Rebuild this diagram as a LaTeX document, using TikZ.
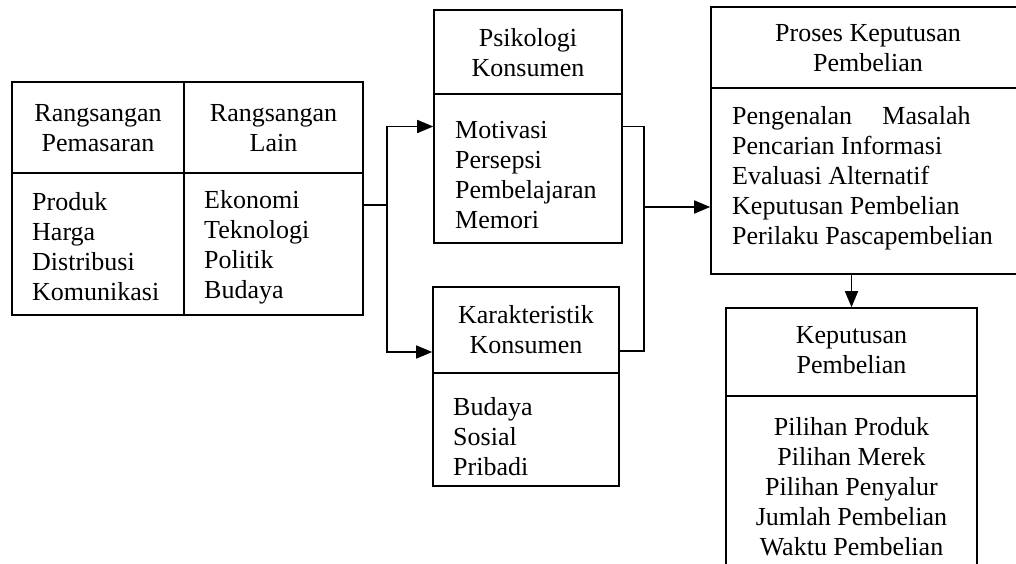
\documentclass[tikz,border=0pt]{standalone}
\usepackage{fontspec}
\setmainfont{Liberation Serif}
\usetikzlibrary{arrows.meta}
\begin{document}
\begin{tikzpicture}[x=1pt,y=-1pt,
  box/.style={draw, line width=1.6pt, inner sep=0pt, rectangle},
  txt/.style={inner sep=0pt, font=\fontsize{26}{30}\selectfont},
  ln/.style={line width=1.6pt},
  arr/.style={line width=1.6pt, -{Triangle[length=16pt,width=13pt]}}]
\clip (0,0) rectangle (1016,564);
\fill[white] (0,0) rectangle (1016,564);
% boxes
\node[box, minimum width=351pt, minimum height=233pt] (lt) at (187.5,198.5) {};
\draw[ln] (184,82) -- (184,315);
\draw[ln] (12,173) -- (363,173);
\node[box, minimum width=188pt, minimum height=233pt] (psi) at (528,126.5) {};
\draw[ln] (434,94) -- (622,94);
\node[box, minimum width=186pt, minimum height=199pt] (kar) at (526,386.5) {};
\draw[ln] (433,373) -- (619,373);
\node[box, minimum width=314pt, minimum height=267pt] (pro) at (868,140.5) {};
\draw[ln] (711,88) -- (1025,88);
\node[box, minimum width=251pt, minimum height=272pt] (kep) at (851.5,444) {};
\draw[ln] (726,396) -- (977,396);
% texts
\node[txt, align=center] (t1) at (98,128) {Rangsangan\\Pemasaran};
\node[txt, align=center] (t2) at (273.5,128) {Rangsangan\\Lain};
\node[txt, align=left, anchor=west] (t3) at (32,247) {Produk\\Harga\\Distribusi\\Komunikasi};
\node[txt, align=left, anchor=west] (t4) at (204,247) {Ekonomi\\Teknologi\\Politik\\Budaya};
\node[txt, align=center] (t5) at (528,53) {Psikologi\\Konsumen};
\node[txt, align=left, anchor=west] (t6) at (455,175) {Motivasi\\Persepsi\\Pembelajaran\\Memori};
\node[txt, align=center] (t7) at (526,330) {Karakteristik\\Konsumen};
\node[txt, align=left, anchor=west] (t8) at (453,437) {Budaya\\Sosial\\Pribadi};
\node[txt, align=center] (t9) at (868,48) {Proses Keputusan\\Pembelian};
\node[txt, align=left, anchor=west] (t10) at (732,178) {Pengenalan\hspace{1.17em}Masalah\\Pencarian Informasi\\Evaluasi Alternatif\\Keputusan Pembelian\\Perilaku Pascapembelian};
\node[txt, align=center] (t11) at (851.5,350) {Keputusan\\Pembelian};
\node[txt, align=center] (t12) at (851.5,487) {Pilihan Produk\\Pilihan Merek\\Pilihan Penyalur\\Jumlah Pembelian\\Waktu Pembelian};
% connectors
\coordinate (split) at (387,205);
\coordinate (join) at (644,207);
\coordinate (kin) at (0,352);
\coordinate (kout) at (0,351);
\draw[ln] (lt.east |- split) -- (split);
\draw[arr] (split) |- (psi.west);
\draw[arr] (split) |- (kar.west |- kin);
\draw[ln] (psi.east) -| (join);
\draw[ln] (kar.east |- kout) -| (join);
\draw[arr] (join) -- (pro.west |- join);
\draw[arr] (kep.north |- pro.south) -- (kep.north);
\end{tikzpicture}
\end{document}
